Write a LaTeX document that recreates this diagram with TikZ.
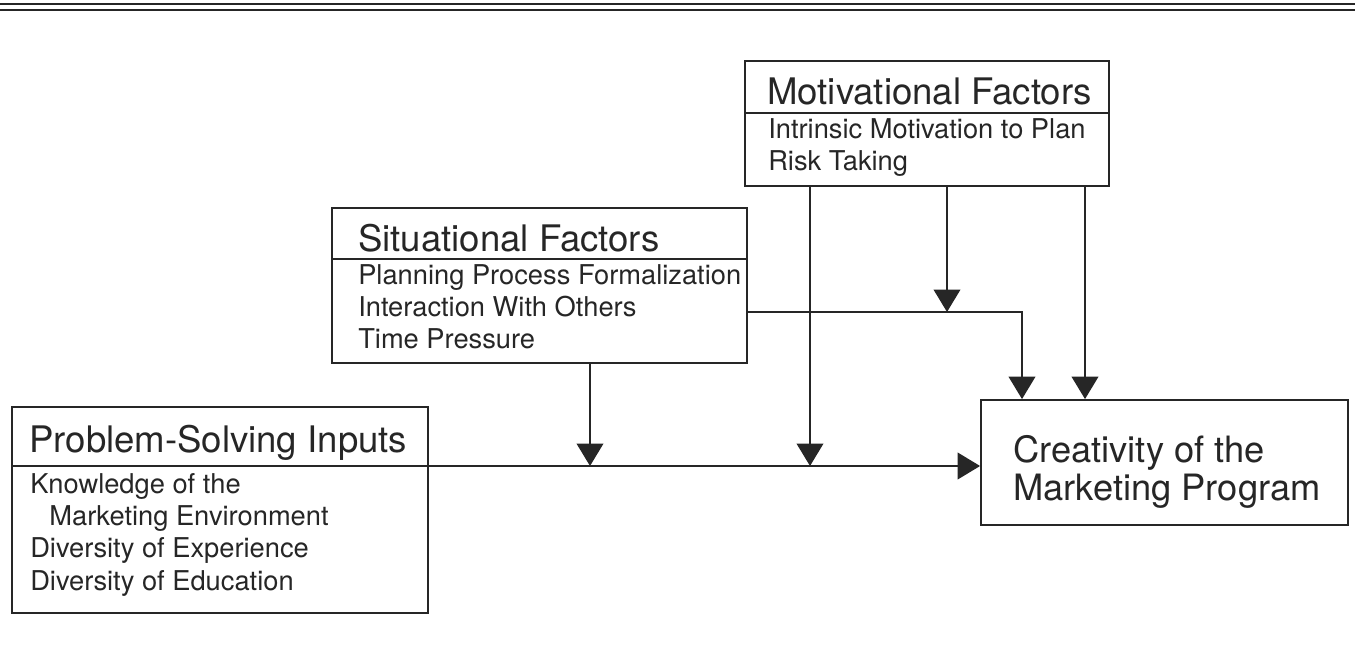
\documentclass[tikz,border=0pt]{standalone}
\usepackage{fontspec}
\setmainfont{TeX Gyre Heros}
\usetikzlibrary{arrows.meta,fit}

\tikzset{
  box/.style={draw, line width=1.3pt, inner sep=0pt},
  title/.style={anchor=base west, inner sep=0pt, font=\fontsize{26}{27}\selectfont},
  body/.style={anchor=base west, inner sep=0pt, align=left, font=\fontsize{19.4}{22.8}\selectfont},
  arr/.style={line width=1.3pt, -{Triangle[length=16pt,width=19pt]}},
}

\begin{document}
\begin{tikzpicture}[x=0.025cm, y=-0.025cm, color=black!85]
  \useasboundingbox (0,0) rectangle (1355,649);
  % double rule at the top
  \draw[line width=1pt] (0,4) -- (1355,4);
  \draw[line width=1.5pt] (0,10) -- (1355,10);

  % boxes
  \node[box, fit={(745,61) (1109,186)}] (mot) {};
  \node[box, fit={(332,208) (747,363)}] (sit) {};
  \node[box, fit={(12,407) (428,613)}] (prob) {};
  \node[box, fit={(981,400) (1348,525)}] (crea) {};
  \draw[line width=1.3pt] (mot.west |- 0,113) -- (mot.east |- 0,113);
  \draw[line width=1.3pt] (sit.west |- 0,259) -- (sit.east |- 0,259);
  \draw[line width=1.3pt] (prob.west |- 0,466) -- (prob.east |- 0,466);

  % texts (multi-line nodes sit on their last baseline)
  \node[title] (mottitle) at (767,105) {Motivational Factors};
  \node[body] (motbody) at (768,171) {Intrinsic Motivation to Plan\\Risk Taking};
  \node[title] (sittitle) at (358,252) {Situational Factors};
  \node[body] (sitbody) at (358,349)
    {Planning Process Formalization\\Interaction With Others\\Time Pressure};
  \node[title] (probtitle) at (29,452) {Problem-Solving Inputs};
  \node[body] (probbody) at (30,590) {Knowledge of the\\\hspace*{0.7em}Marketing Environment\\Diversity of Experience\\Diversity of Education};
  \node[title, align=left, font=\fontsize{25.8}{27}\selectfont] (creatitle) at (1013,500) {Creativity of the\\Marketing Program};

  % connectors
  \coordinate (ja) at (590,466);
  \coordinate (jb) at (810,466);
  \coordinate (jc) at (947,312);
  \draw[arr] (prob.east |- 0,466) -- (crea.west |- 0,466);
  \draw[arr] (sit.south -| ja) -- (ja);
  \draw[arr] (mot.south -| jb) -- (jb);
  \draw[arr] (mot.south -| jc) -- (jc);
  \draw[arr] (sit.east |- jc) -| (crea.north -| 1022,0);
  \draw[arr] (mot.south -| 1085,0) -- (crea.north -| 1085,0);
\end{tikzpicture}
\end{document}
